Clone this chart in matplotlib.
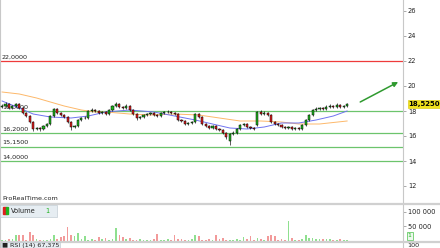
import matplotlib
matplotlib.use('Agg')
import matplotlib.pyplot as plt
import matplotlib.transforms as mtransforms
import numpy as np

# --- Datos (velas diarias) ---
opens = [18.30, 18.40, 18.56, 18.24, 18.40, 18.56, 18.24, 17.84, 17.60, 17.12,
         16.56, 16.64, 16.56, 16.80, 16.96, 17.60, 18.16, 17.84, 17.68, 17.52,
         17.12, 16.72, 16.80, 17.28, 17.44, 17.44, 18.00, 18.08, 18.00, 17.84,
         17.92, 17.76, 18.08, 18.40, 18.56, 18.32, 18.24, 18.40, 18.08, 17.76,
         17.44, 17.52, 17.68, 17.76, 17.84, 17.68, 17.60, 17.84, 17.92, 17.92,
         17.84, 17.76, 17.28, 17.20, 16.96, 17.04, 17.12, 17.76, 17.52, 16.96,
         16.80, 16.64, 16.80, 16.56, 16.48, 16.24, 15.60, 16.15, 16.24, 16.56,
         16.88, 16.96, 16.72, 16.64, 16.90, 17.90, 17.76, 17.84, 17.68, 17.12,
         16.96, 16.88, 16.72, 16.64, 16.72, 16.56, 16.64, 16.56, 16.88, 17.28,
         17.68, 18.08, 18.16, 18.24, 18.16, 18.32, 18.40, 18.32, 18.48, 18.32,
         18.40]
closes = [18.40, 18.56, 18.24, 18.40, 18.56, 18.24, 17.84, 17.60, 17.12, 16.56,
          16.64, 16.56, 16.80, 16.96, 17.60, 18.16, 17.84, 17.68, 17.52, 17.12,
          16.72, 16.80, 17.28, 17.44, 17.44, 18.00, 18.08, 18.00, 17.84, 17.92,
          17.76, 18.08, 18.40, 18.56, 18.32, 18.24, 18.40, 18.08, 17.76, 17.44,
          17.52, 17.68, 17.76, 17.84, 17.68, 17.60, 17.84, 17.92, 17.92, 17.84,
          17.76, 17.28, 17.20, 16.96, 17.04, 17.12, 17.76, 17.52, 16.96, 16.80,
          16.64, 16.80, 16.56, 16.48, 16.24, 15.92, 16.15, 16.24, 16.56, 16.88,
          16.96, 16.72, 16.64, 16.56, 17.90, 17.76, 17.84, 17.68, 17.12, 16.96,
          16.88, 16.72, 16.64, 16.72, 16.56, 16.64, 16.56, 16.88, 17.28, 17.68,
          18.08, 18.16, 18.24, 18.16, 18.32, 18.40, 18.32, 18.48, 18.32, 18.40,
          18.525]
highs = [18.55, 18.70, 18.64, 18.50, 18.66, 18.62, 18.30, 17.92, 17.66, 17.18,
         16.74, 16.70, 16.88, 17.06, 17.70, 18.26, 18.22, 17.90, 17.76, 17.58,
         17.18, 16.90, 17.36, 17.54, 17.56, 18.10, 18.20, 18.16, 18.08, 18.02,
         18.00, 18.18, 18.50, 18.72, 18.64, 18.40, 18.52, 18.46, 18.14, 17.82,
         17.62, 17.78, 17.86, 17.94, 17.92, 17.76, 17.94, 18.02, 18.04, 18.00,
         17.92, 17.82, 17.36, 17.26, 17.14, 17.22, 17.86, 17.82, 17.58, 17.04,
         16.88, 16.90, 16.86, 16.64, 16.54, 16.30, 16.24, 16.36, 16.66, 16.98,
         17.08, 17.04, 16.80, 16.72, 18.00, 18.04, 17.96, 17.92, 17.74, 17.18,
         17.04, 16.94, 16.80, 16.82, 16.80, 16.74, 16.70, 16.98, 17.38, 17.78,
         18.18, 18.28, 18.34, 18.32, 18.44, 18.52, 18.48, 18.64, 18.56, 18.50,
         18.62]
lows = [18.20, 18.32, 18.16, 18.16, 18.32, 18.16, 17.76, 17.52, 17.04, 16.36,
        16.48, 16.40, 16.48, 16.72, 16.90, 17.52, 17.76, 17.60, 17.44, 17.04,
        16.46, 16.62, 16.72, 17.20, 17.34, 17.36, 17.92, 17.92, 17.76, 17.76,
        17.68, 17.68, 18.00, 18.32, 18.24, 18.16, 18.16, 18.00, 17.68, 17.30,
        17.36, 17.44, 17.60, 17.68, 17.60, 17.52, 17.52, 17.76, 17.82, 17.76,
        17.68, 17.20, 17.12, 16.88, 16.88, 16.96, 17.04, 17.44, 16.88, 16.72,
        16.56, 16.56, 16.48, 16.40, 16.14, 15.76, 15.30, 16.06, 16.16, 16.48,
        16.80, 16.64, 16.56, 16.48, 16.82, 17.68, 17.68, 17.60, 17.04, 16.88,
        16.80, 16.64, 16.56, 16.56, 16.48, 16.48, 16.44, 16.48, 16.80, 17.20,
        17.60, 18.00, 18.08, 18.08, 18.08, 18.24, 18.24, 18.24, 18.24, 18.24,
        18.32]
volumes = [4000, 5000, 6000, 8000, 22000, 22000, 21000, 5000, 30000, 20000,
           6000, 5000, 5000, 4000, 6000, 20000, 7000, 15000, 18000, 48000,
           22000, 18000, 28000, 6000, 18000, 5000, 6000, 5000, 14000, 6000,
           10000, 5000, 6000, 44000, 22000, 15000, 6000, 10000, 5000, 4000,
           6000, 5000, 4000, 5000, 6000, 25000, 5000, 4000, 6000, 5000,
           22000, 6000, 8000, 5000, 4000, 6000, 20000, 18000, 5000, 4000,
           6000, 5000, 20000, 6000, 10000, 5000, 4000, 5000, 6000, 5000,
           15000, 6000, 18000, 5000, 10000, 6000, 5000, 18000, 20000, 18000,
           5000, 6000, 5000, 70000, 10000, 5000, 4000, 6000, 22000, 12000,
           12000, 6000, 7000, 8000, 6000, 7000, 5000, 5000, 6000, 5000,
           5000]

# Medias móviles (leídas a intervalos)
ma_corta_idx = [0, 5, 9, 14, 20, 25, 30, 37, 44, 50, 56, 61, 66, 71, 76, 81, 86, 91, 96, 100]
ma_corta = [18.80, 18.24, 17.76, 17.52, 17.44, 17.60, 17.92, 18.08, 17.92, 17.60,
            17.28, 16.96, 16.64, 16.56, 16.72, 17.04, 17.04, 17.28, 17.60, 18.00]
ma_larga_idx = [0, 5, 10, 14, 18, 23, 27, 31, 37, 43, 50, 57, 63, 69, 75, 81, 86, 92, 100]
ma_larga = [19.52, 19.36, 19.04, 18.72, 18.40, 18.08, 17.92, 17.90, 17.76, 17.68,
            17.76, 17.68, 17.44, 17.20, 17.20, 17.12, 16.96, 16.96, 17.20]

soportes = [18.00, 16.20, 15.15, 14.00]
resistencia = 22.00
y_ticks = [12, 14, 16, 18, 20, 22, 24, 26]
vol_ticks = [50000, 100000]
vol_labels = ['50 000', '100 000']
rsi_valor = '67,375'

# Flecha de tendencia (inicio -> fin, en índice de vela / precio)
flecha_ini = (103.8, 18.72)
flecha_fin = (114.8, 20.32)

# Colores
UP = '#1fb41f'
DOWN = '#e01f1f'
UP_VOL = '#8fe08f'
DOWN_VOL = '#f29a9a'
GREEN_LINE = '#6cc46c'
RED_LINE = '#ee3b3b'
GRID_GRAY = '#c8c8c8'
TXT = '#222222'

plt.rcParams.update({'font.family': 'DejaVu Sans', 'font.size': 4.5})

o = np.array(opens)
c = np.array(closes)
h = np.array(highs)
l = np.array(lows)
x = np.arange(len(c))
alcista = c >= o

fig = plt.figure(figsize=(4.4, 2.48), dpi=100)
W, H = 440.0, 248.0
ax = fig.add_axes([0, 45 / H, 403 / W, 203 / H])
axv = fig.add_axes([0, 7 / H, 403 / W, 37 / H])
axr = fig.add_axes([0, 0, 403 / W, 5 / H])

xlim = (-0.6, 116.2)

# --- Panel de precio ---
ax.axhline(resistencia, color=RED_LINE, lw=0.9, zorder=1)
for s in soportes:
    ax.axhline(s, color=GREEN_LINE, lw=0.9, zorder=1)

mezcla = mtransforms.blended_transform_factory(ax.transAxes, ax.transData)
for v in [resistencia] + soportes:
    ax.text(0.005, v + 0.12, f'{v:.4f}'.replace('.', ','), transform=mezcla,
            ha='left', va='bottom', fontsize=4.6, color=TXT, zorder=1)

ax.plot(ma_larga_idx, ma_larga, color='#fdb86a', lw=0.7, zorder=2)
ax.plot(ma_corta_idx, ma_corta, color='#6f73f0', lw=0.7, zorder=2)

ax.vlines(x, l, h, color='black', lw=0.45, zorder=3)
cuerpo = np.maximum(np.abs(c - o), 0.03)
ax.bar(x, cuerpo, bottom=np.minimum(o, c), width=0.62,
       color=np.where(alcista, UP, DOWN), edgecolor='black', linewidth=0.35, zorder=4)

ax.annotate('', xy=flecha_fin, xytext=flecha_ini,
            arrowprops=dict(arrowstyle='-|>', color='#2f9a2f', lw=1.1,
                            mutation_scale=7, shrinkA=0, shrinkB=0))

ax.text(0.005, 0.012, 'ProRealTime.com', transform=ax.transAxes,
        ha='left', va='bottom', fontsize=4.6, color=TXT)

ax.set_xlim(*xlim)
ax.set_ylim(10.64, 26.88)
ax.yaxis.tick_right()
ax.set_yticks(y_ticks)
ax.set_yticklabels([str(t) for t in y_ticks])
ax.set_xticks([])
ax.tick_params(axis='y', direction='out', length=2, width=0.5, color='#888888',
               labelsize=4.8, pad=1.5, labelcolor=TXT)

# Etiqueta de último precio
ax.annotate(f'{closes[-1]:.4f}'.replace('.', ','),
            xy=(1.0, closes[-1]), xycoords=('axes fraction', 'data'),
            xytext=(4, 0), textcoords='offset points',
            ha='left', va='center', fontsize=5, fontweight='bold', color='black',
            bbox=dict(boxstyle='square,pad=0.15', fc='#f2e21c', ec='#d8c600', lw=0.4),
            annotation_clip=False, zorder=10)

# --- Panel de volumen ---
axv.bar(x, volumes, width=0.5, color=np.where(alcista, UP_VOL, DOWN_VOL), zorder=2)
axv.set_xlim(*xlim)
axv.set_ylim(0, 127000)
axv.yaxis.tick_right()
axv.set_yticks(vol_ticks)
axv.set_yticklabels(vol_labels)
axv.set_xticks([])
axv.tick_params(axis='y', direction='out', length=2, width=0.5, color='#888888',
                labelsize=4.8, pad=1.5, labelcolor=TXT)
# Leyenda del volumen: caja, icono y texto
axv.add_patch(plt.Rectangle((0.0, 0.66), 0.142, 0.32, transform=axv.transAxes,
                            fc='#e6edf2', ec='#b8c4cc', lw=0.4, clip_on=False, zorder=4))
axv.add_patch(plt.Rectangle((0.008, 0.72), 0.006, 0.19, transform=axv.transAxes,
                            color=DOWN, clip_on=False, zorder=5))
axv.add_patch(plt.Rectangle((0.014, 0.72), 0.006, 0.19, transform=axv.transAxes,
                            color=UP, clip_on=False, zorder=5))
axv.text(0.028, 0.815, 'Volume', transform=axv.transAxes, ha='left', va='center',
         fontsize=4.8, color=TXT, zorder=6)
axv.text(0.112, 0.815, '1', transform=axv.transAxes, ha='left', va='center',
         fontsize=4.8, color=UP, zorder=6)
axv.text(1.012, 0.14, '1', transform=axv.transAxes, ha='left', va='center',
         fontsize=4.5, color=UP,
         bbox=dict(boxstyle='square,pad=0.2', fc='#eef8ee', ec=UP, lw=0.4))

# --- Panel RSI (recortado) ---
axr.set_xlim(*xlim)
axr.set_ylim(0, 1)
axr.set_xticks([])
axr.set_yticks([])
fig.text(0.004, 0.3 / H, '■ RSI (14) ' + rsi_valor, ha='left', va='bottom',
         fontsize=4.6, color=TXT,
         bbox=dict(boxstyle='square,pad=0.15', fc='#e6edf2', ec='#b8c4cc', lw=0.4))
fig.text(407 / W, 0.3 / H, '100', ha='left', va='bottom', fontsize=4.6, color=TXT)

# Bordes de los paneles
for a in (ax, axv, axr):
    for lado in ('top', 'bottom'):
        a.spines[lado].set_visible(False)
    a.spines['left'].set_color(GRID_GRAY)
    a.spines['left'].set_linewidth(0.8)
    a.spines['right'].set_color(GRID_GRAY)
    a.spines['right'].set_linewidth(0.8)
    a.set_facecolor('white')

for yy in (203.5, 241.5):
    fig.add_artist(plt.Line2D([0, 1], [1 - yy / H, 1 - yy / H], color='#d0d0d0', lw=1.6))

fig.savefig('out.png', dpi=100)
plt.close(fig)
